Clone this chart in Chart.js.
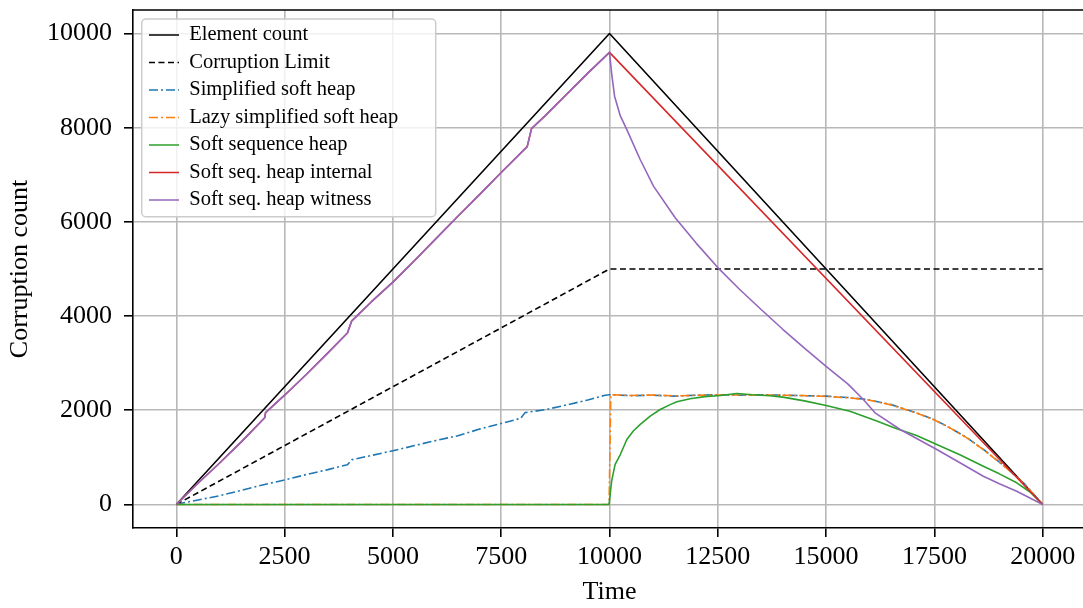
<!DOCTYPE html>
<html>
<head>
<meta charset="utf-8">
<script src="https://cdn.jsdelivr.net/npm/chart.js@4/dist/chart.umd.min.js"></script>
<style>
html,body{margin:0;padding:0;overflow:hidden;background:#fff;width:1083px;height:608px}
#wrap{position:absolute;left:0;top:0;width:1090px;height:608px}
</style>
</head>
<body>
<div id="wrap"><canvas id="c" width="1090" height="608"></canvas></div>
<script>
// ---------------- data ----------------
const xTicks = [0, 2500, 5000, 7500, 10000, 12500, 15000, 17500, 20000];
const yTicks = [0, 2000, 4000, 6000, 8000, 10000];

const seriesNames = ['Element count', 'Corruption Limit', 'Simplified soft heap',
  'Lazy simplified soft heap', 'Soft sequence heap', 'Soft seq. heap internal', 'Soft seq. heap witness'];

const elementTime = [0, 10000, 20000];
const elementValue = [0, 10000, 0];

const limitTime = [0, 10000, 20000];
const limitValue = [0, 5000, 5000];

const simpleTime = [0, 170, 500, 1000, 1500, 1940, 2500, 3000, 3500, 3950, 4050, 4500, 5000, 5500, 6000, 6500, 7000, 7500, 7950, 8050, 8500, 9000, 9500, 9900, 10000,
  10500, 11000, 11500, 12000, 12500, 13000, 13500, 14000, 14500, 15000, 15500, 15940, 16500, 17090, 17500, 17860, 18250, 18630, 19000, 19250, 19600, 20000];
const simpleValue = [0, 36, 95, 185, 300, 403, 520, 635, 740, 845, 950, 1040, 1140, 1250, 1360, 1460, 1600, 1720, 1830, 1950, 2010, 2110, 2220, 2320, 2330,
  2310, 2320, 2300, 2320, 2330, 2320, 2330, 2320, 2310, 2300, 2270, 2230, 2120, 1946, 1800, 1628, 1420, 1168, 900, 707, 420, 0];

const lazyTime = [0, 9990, 10030, 10500, 11000, 11500, 12000, 12500, 13000, 13500, 14000, 14500, 15000, 15500, 15940, 16500, 17090, 17500, 17860, 18250, 18630, 19000, 19250, 19600, 20000];
const lazyValue = [0, 0, 2330, 2315, 2325, 2305, 2320, 2325, 2325, 2325, 2320, 2310, 2295, 2265, 2225, 2115, 1940, 1795, 1625, 1415, 1165, 895, 705, 415, 0];

const seqTime = [0, 9990, 10050, 10130, 10250, 10400, 10550, 10710, 10940, 11170, 11400, 11555, 11860, 12200, 12555, 12940, 13300, 13700, 14000, 14500, 15000, 15550, 16170, 16600, 17090, 17555, 18100, 18630, 19000, 19400, 19700, 20000];
const seqValue = [0, 0, 500, 850, 1060, 1380, 1560, 1700, 1875, 2017, 2120, 2180, 2244, 2290, 2314, 2357, 2330, 2310, 2280, 2200, 2100, 1980, 1770, 1620, 1465, 1274, 1050, 813, 650, 460, 270, 0];

const riseTime = [0, 500, 1000, 1500, 2040, 2060, 2500, 3000, 3500, 3950, 4050, 4500, 5000, 5500, 6000, 6500, 7000, 7500, 8100, 8200, 8500, 9000, 9500, 10000];
const riseValue = [0, 450, 880, 1330, 1840, 1950, 2320, 2760, 3220, 3640, 3900, 4300, 4720, 5180, 5650, 6120, 6580, 7050, 7600, 7980, 8240, 8700, 9160, 9600];

const internalFallTime = [20000];
const internalFallValue = [0];

const witnessFallTime = [10050, 10117, 10250, 10400, 10708, 11015, 11516, 12000, 12500, 13000, 13500, 14000, 14500, 15000, 15500, 15860, 16130, 16710, 17555, 18090, 18630, 19000, 19400, 20000];
const witnessFallValue = [9150, 8670, 8250, 7960, 7325, 6760, 6087, 5550, 5030, 4570, 4140, 3720, 3320, 2930, 2560, 2229, 1946, 1592, 1168, 885, 600, 440, 282, 0];

// ---------------- helpers ----------------
const FONT = "'Liberation Serif', 'DejaVu Serif', serif";
function pts(ts, vs) { return ts.map((t, i) => ({x: t, y: vs[i]})); }

const colors = ['#000000', '#000000', '#1f77b4', '#ff7f0e', '#2ca02c', '#d62728', '#9467bd'];
const dashes = [[], [6, 3.5], [9, 3, 2, 3], [9, 3, 2, 3], [], [], []];
const seriesData = [
  pts(elementTime, elementValue),
  pts(limitTime, limitValue),
  pts(simpleTime, simpleValue),
  pts(lazyTime, lazyValue),
  pts(seqTime, seqValue),
  pts(riseTime.concat(internalFallTime), riseValue.concat(internalFallValue)),
  pts(riseTime.concat(witnessFallTime), riseValue.concat(witnessFallValue))
];

const datasets = seriesNames.map((name, i) => ({
  label: name,
  data: seriesData[i],
  borderColor: colors[i],
  backgroundColor: colors[i],
  borderWidth: 1.6,
  borderDash: dashes[i],
  pointRadius: 0,
  fill: false,
  tension: 0,
  order: 10 - i
}));

// legend drawn above data, with a matplotlib-like frame
const legendFront = {
  id: 'legendFront',
  beforeUpdate(chart) {
    const lg = chart.legend;
    if (lg && !lg._frontPatched) {
      lg._frontPatched = true;
      lg._layers = function () {
        return [{z: 10, draw(ca) {
          const area = chart.chartArea;
          const ctx = chart.ctx;
          lg.left = area.left + 9; lg.top = area.top + 7.75;
          lg.right = lg.left + lg.width; lg.bottom = lg.top + lg.height;
          const fx = area.left + 8.7, fy = area.top + 9, fw = 294, fh = 197.7, r = 4;
          ctx.save();
          ctx.beginPath();
          ctx.moveTo(fx + r, fy);
          ctx.lineTo(fx + fw - r, fy); ctx.arcTo(fx + fw, fy, fx + fw, fy + r, r);
          ctx.lineTo(fx + fw, fy + fh - r); ctx.arcTo(fx + fw, fy + fh, fx + fw - r, fy + fh, r);
          ctx.lineTo(fx + r, fy + fh); ctx.arcTo(fx, fy + fh, fx, fy + fh - r, r);
          ctx.lineTo(fx, fy + r); ctx.arcTo(fx, fy, fx + r, fy, r);
          ctx.closePath();
          ctx.fillStyle = 'rgba(255,255,255,0.8)';
          ctx.fill();
          ctx.lineWidth = 1.5;
          ctx.strokeStyle = '#cccccc';
          ctx.stroke();
          ctx.restore();
          lg.draw(ca);
        }}];
      };
    }
  }
};

const spines = {
  id: 'spines',
  afterDraw(chart) {
    const {ctx, chartArea: a} = chart;
    ctx.save();
    ctx.strokeStyle = '#000';
    ctx.lineWidth = 1.6;
    ctx.beginPath();
    ctx.moveTo(a.left, a.top); ctx.lineTo(a.right, a.top); ctx.lineTo(a.right, a.bottom);
    ctx.stroke();
    ctx.restore();
  }
};

const gridCfg = {color: '#b8b8b8', lineWidth: 1.6, tickLength: 9, tickColor: '#000', tickWidth: 1.6, drawTicks: true};

new Chart(document.getElementById('c'), {
  type: 'line',
  data: {datasets},
  plugins: [legendFront, spines],
  options: {
    animation: false,
    responsive: false,
    devicePixelRatio: 1,
    layout: {padding: {left: 0, top: 10, right: 4, bottom: 0}},
    elements: {point: {radius: 0}, line: {borderJoinStyle: 'round'}},
    plugins: {
      legend: {
        position: 'chartArea',
        align: 'start',
        labels: {
          usePointStyle: true,
          pointStyle: 'line',
          pointStyleWidth: 30,
          padding: 7,
          color: '#000',
          font: {family: FONT, size: 20.5},
          sort: (a, b) => a.datasetIndex - b.datasetIndex,
          generateLabels(chart) {
            const items = Chart.defaults.plugins.legend.labels.generateLabels(chart);
            items.forEach(it => {
              const ds = chart.data.datasets[it.datasetIndex];
              it.lineDash = ds.borderDash;
              it.strokeStyle = ds.borderColor;
              it.fillStyle = ds.borderColor;
              it.lineWidth = ds.borderWidth;
              it.pointStyle = 'line';
            });
            return items;
          }
        }
      },
      tooltip: {enabled: false}
    },
    scales: {
      x: {
        type: 'linear',
        min: -1000,
        max: 21000,
        afterBuildTicks: s => { s.ticks = xTicks.map(v => ({value: v})); },
        afterFit: s => { s.height = 80; s.paddingLeft = 0; s.paddingRight = 0; },
        ticks: {padding: 5, color: '#000', font: {family: FONT, size: 26}, maxRotation: 0, autoSkip: false, callback: v => String(v)},
        grid: gridCfg,
        border: {display: true, color: '#000', width: 1.6},
        title: {display: true, text: 'Time', color: '#000', font: {family: FONT, size: 26}, padding: {top: 0, bottom: 0}}
      },
      y: {
        type: 'linear',
        min: -500,
        max: 10500,
        afterBuildTicks: s => { s.ticks = yTicks.map(v => ({value: v})); },
        afterFit: s => { s.width = 133; s.paddingTop = 0; s.paddingBottom = 0; },
        ticks: {padding: 12, color: '#000', font: {family: FONT, size: 26}, autoSkip: false, callback: v => String(v)},
        grid: gridCfg,
        border: {display: true, color: '#000', width: 1.6},
        title: {display: true, text: 'Corruption count', color: '#000', font: {family: FONT, size: 26}, padding: {top: 5, bottom: 0}}
      }
    }
  }
});
</script>
</body>
</html>
